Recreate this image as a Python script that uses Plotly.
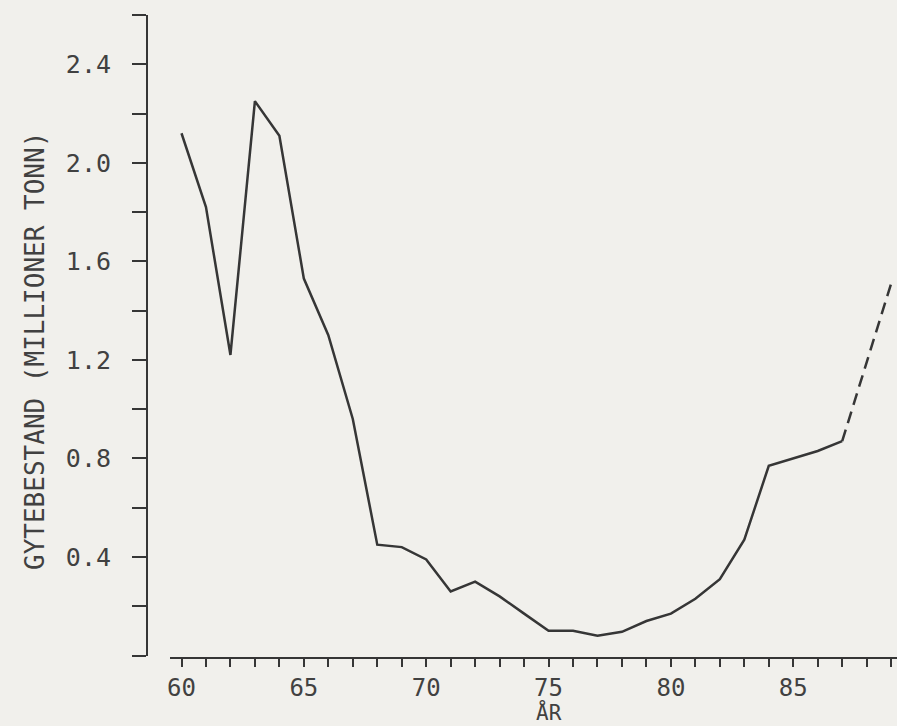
import plotly.graph_objects as go

# Data (year -> spawning stock, million tonnes)
years = [60, 61, 62, 63, 64, 65, 66, 67, 68, 69, 70, 71, 72, 73, 74, 75, 76, 77,
         78, 79, 80, 81, 82, 83, 84, 85, 86, 87]
stock = [2.12, 1.82, 1.22, 2.25, 2.11, 1.53, 1.30, 0.96, 0.45, 0.44, 0.39, 0.26,
         0.30, 0.24, 0.17, 0.10, 0.10, 0.08, 0.096, 0.14, 0.17, 0.23, 0.31, 0.47,
         0.77, 0.80, 0.83, 0.87]
proj_years = [87, 89]
proj_stock = [0.87, 1.51]

y_tickvals = [0.4, 0.8, 1.2, 1.6, 2.0, 2.4]
y_ticktext = ["0.4", "0.8", "1.2", "1.6", "2.0", "2.4"]
x_tickvals = [60, 65, 70, 75, 80, 85]
x_ticktext = ["60", "65", "70", "75", "80", "85"]

W, H = 897, 726
BG = "#f1f0ec"
INK = "#363636"
TXT = "#414141"
FONT = "DejaVu Sans Mono"

fig = go.Figure()
fig.add_trace(go.Scatter(x=years, y=stock, mode="lines",
                         line=dict(color=INK, width=2.5), showlegend=False,
                         hoverinfo="skip"))
fig.add_trace(go.Scatter(x=proj_years, y=proj_stock, mode="lines",
                         line=dict(color=INK, width=2.5, dash="12px,7px"),
                         showlegend=False, hoverinfo="skip"))

fig.update_layout(
    width=W, height=H,
    margin=dict(l=0, r=0, t=0, b=0, autoexpand=False),
    paper_bgcolor=BG, plot_bgcolor=BG,
    font=dict(family=FONT, size=24, color=TXT),
    xaxis=dict(
        domain=[170 / W, 1.0],
        range=[59.53, 89.24],
        showgrid=False, zeroline=False,
        showline=True, linecolor=INK, linewidth=2,
        anchor="free", position=(H - 658) / H,
        ticks="outside", ticklen=8, tickwidth=2, tickcolor=INK,
        tickvals=x_tickvals, ticktext=x_ticktext,
        ticklabelstandoff=0,
        minor=dict(dtick=1, tick0=0, ticks="outside", ticklen=8,
                   tickwidth=2, tickcolor=INK, showgrid=False),
        tickfont=dict(family=FONT, size=24, color=TXT),
        automargin=False,
    ),
    yaxis=dict(
        domain=[(H - 655.5) / H, (H - 15) / H],
        range=[0, 2.6],
        showgrid=False, zeroline=False,
        showline=True, linecolor=INK, linewidth=2,
        anchor="free", position=147 / W,
        ticks="outside", ticklen=14, tickwidth=2, tickcolor=INK,
        tickvals=y_tickvals, ticktext=y_ticktext,
        ticklabelstandoff=16,
        minor=dict(dtick=0.2, tick0=0, ticks="outside", ticklen=14,
                   tickwidth=2, tickcolor=INK, showgrid=False),
        tickfont=dict(family=FONT, size=25, color=TXT),
        automargin=False,
    ),
    annotations=[
        dict(text="GYTEBESTAND (MILLIONER TONN)", textangle=-90,
             xref="paper", yref="paper", x=35 / W, y=(H - 351) / H,
             xanchor="center", yanchor="middle", showarrow=False,
             font=dict(family=FONT, size=26, color=TXT)),
        dict(text="ÅR", xref="x", yref="paper", x=75, y=0,
             xanchor="center", yanchor="bottom", showarrow=False,
             borderpad=0,
             font=dict(family=FONT, size=21, color=TXT)),
    ],
)

fig.write_html("out.html")
